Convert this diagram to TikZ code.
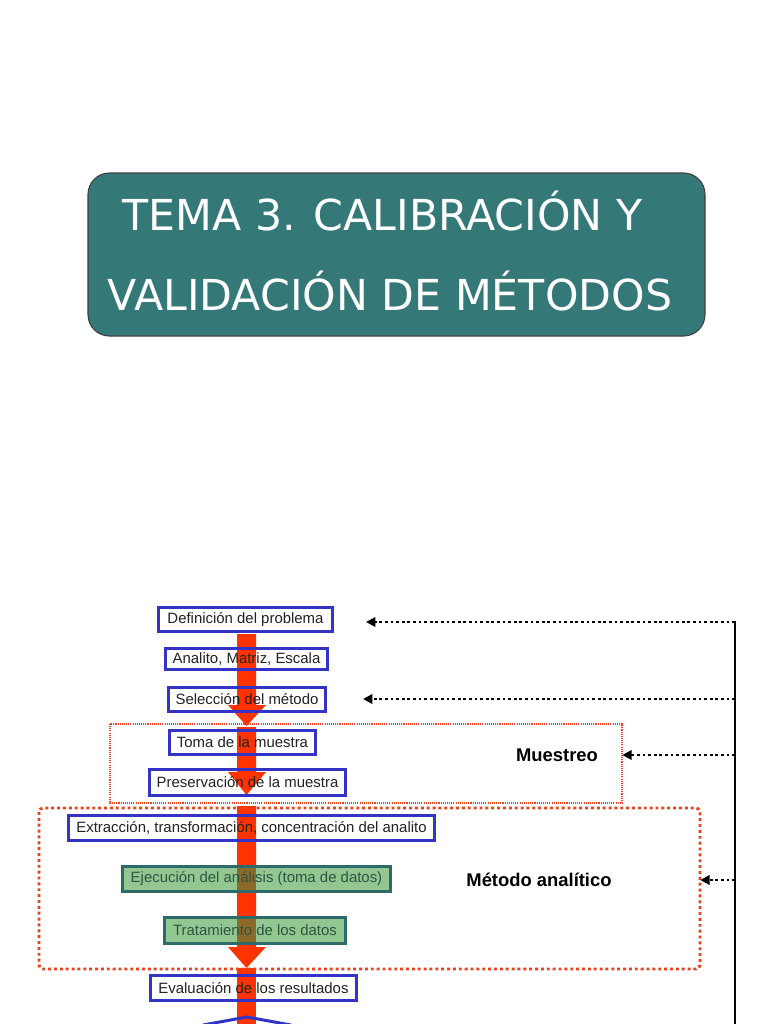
\documentclass[tikz,border=0pt]{standalone}
\usepackage{fontspec}
\setmainfont{Liberation Sans}
\newfontfamily\titlefont{DejaVu Sans}
\usetikzlibrary{arrows.meta}
\definecolor{titleteal}{HTML}{357878}
\definecolor{boxblue}{HTML}{3434C4}
\definecolor{arrowred}{HTML}{FF3300}
\definecolor{dotred}{HTML}{E8431C}
\definecolor{greenfill}{HTML}{92C792}
\definecolor{greenborder}{HTML}{2F6A6A}
\definecolor{greentext}{HTML}{2E5540}
\definecolor{undergreen}{HTML}{8E6A2A}
\definecolor{textgray}{HTML}{222222}
\tikzset{
  bluebox/.style={draw=boxblue, line width=2.25pt, inner sep=0pt, text=textgray,
    font=\fontsize{11.2}{13}\selectfont},
  greenbox/.style={draw=greenborder, line width=2.25pt, fill=greenfill, inner sep=0pt},
  greenlabel/.style={inner sep=0pt, text=greentext, font=\fontsize{11.2}{13}\selectfont},
  blackdots/.style={black, line width=2.1pt, dash pattern=on 2.1pt off 2.1pt,
    -{Triangle[length=7pt,width=7pt]}},
  sidelabel/.style={font=\bfseries\fontsize{13.8}{16}\selectfont, text=black},
  titletext/.style={font=\titlefont\fontsize{32}{38}\selectfont, text=white},
}
\newcommand\redarr[3]{%
  \fill[arrowred] (237,#1) -- (256,#1) -- (256,#2) -- (266,#2) -- (246.5,#3) -- (228,#2) -- (237,#2) -- cycle;}
\begin{document}
\begin{tikzpicture}[x=0.75pt,y=-0.75pt]
\useasboundingbox (0,0) rectangle (768,1024);
\clip (0,0) rectangle (768,1024);
\fill[white] (0,0) rectangle (768,1024);

% title
\node (title) [draw=black!75, line width=0.8pt, fill=titleteal, rounded corners=16pt,
  minimum width=617*0.75pt, minimum height=163*0.75pt] at (396.5,254.5) {};
\node (t1) [titletext, anchor=base] at (382.5,230) {TEMA 3. CALIBRACIÓN Y};
\node (t2) [titletext, anchor=base] at (390,310) {VALIDACIÓN DE MÉTODOS};

% red block arrows
\redarr{634}{705}{726}
\redarr{727}{772}{795}
\redarr{806}{947}{968}
\fill[arrowred] (237,968) rectangle (256,1030);

% group frames
\draw[dotred, line width=0.9pt, dash pattern=on 0.8pt off 0.8pt] (110,724) rectangle (622,803);
\node (muestreo) [draw=none, minimum width=512*0.75pt, minimum height=79*0.75pt] at (366,763.5) {};
\draw[dotred, line width=2.2pt, dash pattern=on 2.2pt off 2.2pt, rounded corners=3pt] (39,808) rectangle (700,969);
\node (metodo) [draw=none, minimum width=661*0.75pt, minimum height=161*0.75pt] at (369.5,888.5) {};

% green boxes (the arrow shows through them)
\node (ejec) [greenbox, minimum width=201pt, minimum height=18.75pt] at (256.5,879) {};
\node (trat) [greenbox, minimum width=135.75pt, minimum height=19.5pt] at (255,930.5) {};
\fill[undergreen] (237,868) rectangle (256,890);
\fill[undergreen] (237,919) rectangle (256,942);
\node (eject) [greenlabel] at (ejec.center) {Ejecución del análisis (toma de datos)};
\node (tratt) [greenlabel] at (trat.center) {Tratamiento de los datos};

% blue boxes
\node (def) [bluebox, minimum width=130.5pt, minimum height=18pt] at (245.5,619.5) {Definición del problema};
\node (ana) [bluebox, minimum width=121.5pt, minimum height=16pt] at (246.5,659) {Analito, Matriz, Escala};
\node (sel) [bluebox, minimum width=117.75pt, minimum height=18pt] at (247,699.5) {Selección del método};
\node (toma) [bluebox, minimum width=109.5pt, minimum height=18pt] at (242.5,742.5) {Toma de la muestra};
\node (pres) [bluebox, minimum width=147pt, minimum height=19.5pt] at (247.5,782.5) {Preservación de la muestra};
\node (ext) [bluebox, minimum width=274.5pt, minimum height=18.75pt] at (251.5,828) {Extracción, transformación, concentración del analito};
\node (eval) [bluebox, minimum width=154.5pt, minimum height=18.75pt] at (253.5,988) {Evaluación de los resultados};

% partial shape at the bottom
\draw[boxblue, line width=2.25pt] (203,1025) -- (247,1017) -- (291,1025);

% side labels
\node (lmue) [sidelabel] at (557,755) {Muestreo};
\node (lmet) [sidelabel] at (539,880) {Método analítico};

% feedback line
\coordinate (vtop) at (735,621);
\coordinate (vbot) at (735,1030);
\draw[black, line width=2.2pt] (vtop) -- (vbot);
\coordinate (r1) at (735,622);
\coordinate (r2) at (735,699);
\coordinate (r3) at (735,755);
\coordinate (r4) at (735,880);
\coordinate (e1) at (366,622);
\coordinate (e2) at (363,699);
\draw[blackdots] (r1) -- (e1);
\draw[blackdots] (r2) -- (e2);
\draw[blackdots] (r3) -- (muestreo.east |- r3);
\draw[blackdots] (r4) -- (metodo.east |- r4);
\end{tikzpicture}
\end{document}
